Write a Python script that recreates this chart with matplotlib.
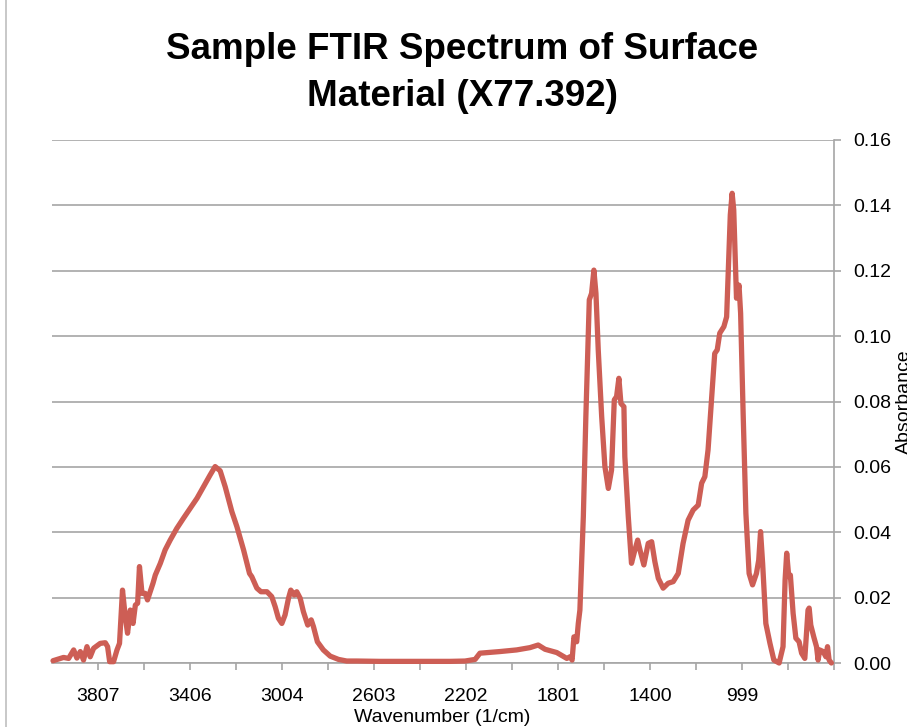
""" Sample FTIR spectrum of surface material (X77.392). """
import matplotlib
matplotlib.use("Agg")
import matplotlib.pyplot as plt
from matplotlib.patches import Rectangle

# wavenumber (1/cm) and absorbance
wavenumber = [
    4003, 3957, 3935, 3913, 3899, 3884, 3870, 3855, 3841, 3826, 3797, 3775,
    3765, 3756, 3739, 3724, 3713, 3700, 3688, 3678, 3666, 3654, 3644, 3634,
    3626, 3615, 3601, 3591, 3579, 3567, 3557, 3535, 3514, 3492, 3463, 3434,
    3405, 3375, 3347, 3318, 3296, 3274, 3252, 3223, 3201, 3172, 3146, 3136,
    3114, 3096, 3070, 3049, 3034, 3020, 3005, 2991, 2976, 2966, 2951, 2940,
    2925, 2911, 2892, 2877, 2867, 2850, 2824, 2794, 2758, 2722, 2678, 2577,
    2402, 2271, 2206, 2162, 2141, 2054, 1981, 1923, 1887, 1857, 1806, 1779,
    1762, 1748, 1739, 1731, 1719, 1712, 1705, 1690, 1679, 1664, 1654, 1644,
    1635, 1625, 1610, 1596, 1581, 1567, 1555, 1545, 1535, 1526, 1513, 1509,
    1494, 1480, 1465, 1453, 1443, 1426, 1407, 1392, 1378, 1363, 1342, 1320,
    1298, 1276, 1255, 1233, 1211, 1189, 1174, 1160, 1146, 1131, 1117, 1106,
    1095, 1077, 1065, 1057, 1049, 1041, 1034, 1029, 1022, 1011, 1004, 993,
    981, 967, 952, 935, 925, 917, 908, 894, 876, 859, 836, 819,
    810, 803, 794, 787, 775, 763, 749, 738, 724, 710, 705, 698,
    685, 673, 666, 659, 644, 632, 625, 618, 608,
]
absorbance = [
    0.0007, 0.0017, 0.0014, 0.0040, 0.0015, 0.0035, 0.0009, 0.0050, 0.0019, 0.0045, 0.0060, 0.0062,
    0.0050, 0.0004, 0.0004, 0.0040, 0.0060, 0.0223, 0.0142, 0.0091, 0.0162, 0.0121, 0.0177, 0.0183,
    0.0295, 0.0213, 0.0213, 0.0193, 0.0218, 0.0244, 0.0269, 0.0305, 0.0346, 0.0376, 0.0412, 0.0443,
    0.0473, 0.0504, 0.0539, 0.0575, 0.0601, 0.0588, 0.0539, 0.0463, 0.0417, 0.0346, 0.0274, 0.0264,
    0.0229, 0.0218, 0.0218, 0.0203, 0.0172, 0.0137, 0.0121, 0.0147, 0.0198, 0.0223, 0.0208, 0.0218,
    0.0198, 0.0157, 0.0116, 0.0132, 0.0111, 0.0065, 0.0040, 0.0021, 0.0011, 0.0006, 0.0006, 0.0005,
    0.0005, 0.0005, 0.0006, 0.0011, 0.0030, 0.0035, 0.0040, 0.0047, 0.0055, 0.0042, 0.0032, 0.0021,
    0.0014, 0.0019, 0.0009, 0.0080, 0.0065, 0.0121, 0.0162, 0.0448, 0.0754, 0.1111, 0.1131, 0.1202,
    0.1131, 0.0958, 0.0754, 0.0601, 0.0534, 0.0590, 0.0805, 0.0815, 0.0871, 0.0794, 0.0784, 0.0631,
    0.0448, 0.0305, 0.0346, 0.0376, 0.0346, 0.0300, 0.0366, 0.0371, 0.0310, 0.0259, 0.0229, 0.0244,
    0.0249, 0.0274, 0.0366, 0.0437, 0.0468, 0.0483, 0.0550, 0.0570, 0.0652, 0.0805, 0.0947, 0.0958,
    0.1009, 0.1029, 0.1059, 0.1218, 0.1371, 0.1437, 0.1386, 0.1274, 0.1116, 0.1156, 0.1070, 0.0764,
    0.0458, 0.0274, 0.0239, 0.0274, 0.0315, 0.0402, 0.0305, 0.0121, 0.0060, 0.0009, 0.0000, 0.0050,
    0.0254, 0.0336, 0.0264, 0.0269, 0.0152, 0.0076, 0.0065, 0.0030, 0.0014, 0.0162, 0.0168, 0.0116,
    0.0080, 0.0050, 0.0009, 0.0040, 0.0035, 0.0019, 0.0050, 0.0009, 0.0000,
]

x_labels = [3807, 3406, 3004, 2603, 2202, 1801, 1400, 999]
x_minor = [3607, 3205, 2804, 2403, 2002, 1601, 1200, 798, 598]
y_ticks = [0.00, 0.02, 0.04, 0.06, 0.08, 0.10, 0.12, 0.14, 0.16]

GRAY = '#a6a6a6'
plt.rcParams['font.family'] = ['Liberation Sans', 'DejaVu Sans']

figure = plt.figure(figsize=(9.07, 7.27), dpi=100)
axes = figure.add_axes([52 / 907, 1 - 663 / 727, 781.7 / 907, 523 / 727])

axes.plot(wavenumber, absorbance, color='#cd5e55', lw=3.8,
          solid_joinstyle='round', solid_capstyle='round', clip_on=False, zorder=3)

axes.set_xlim(4007.5, 598)
axes.set_ylim(0, 0.16)
axes.set_xticks(x_labels)
axes.set_xticklabels([str(v) for v in x_labels])
axes.set_xticks(x_minor, minor=True)
axes.set_yticks(y_ticks)
axes.set_yticklabels([f'{v:.2f}' for v in y_ticks])

axes.yaxis.tick_right()
axes.grid(axis='y', color=GRAY, lw=1.2)
axes.set_axisbelow(True)
for side in ('left', 'top'):
    axes.spines[side].set_visible(False)
for side in ('right', 'bottom'):
    axes.spines[side].set_color(GRAY)
    axes.spines[side].set_linewidth(1.2)
axes.tick_params(axis='both', which='both', direction='out', length=5, width=1.2,
                 color=GRAY, labelsize=14, labelcolor='black')
axes.tick_params(axis='y', pad=9)
axes.tick_params(axis='x', pad=13)

figure.text(462 / 907, 1 - 73 / 727, 'Sample FTIR Spectrum of Surface\nMaterial (X77.392)',
            ha='center', va='center', fontsize=26.5, fontweight='bold', linespacing=1.45)
figure.text(442 / 907, 1 - 717 / 727, 'Wavenumber (1/cm)', ha='center', va='center', fontsize=14)
figure.text(896 / 907, 1 - 402 / 727, 'Absorbance', ha='left', va='center',
            rotation=90, fontsize=14)

figure.patches.append(Rectangle((6 / 907, -0.2), 1.5, 1.2 + (1 - 10 / 727),
                                transform=figure.transFigure, fill=False,
                                edgecolor='#bfbfbf', lw=1.2))

figure.savefig('out.png', dpi=100)
